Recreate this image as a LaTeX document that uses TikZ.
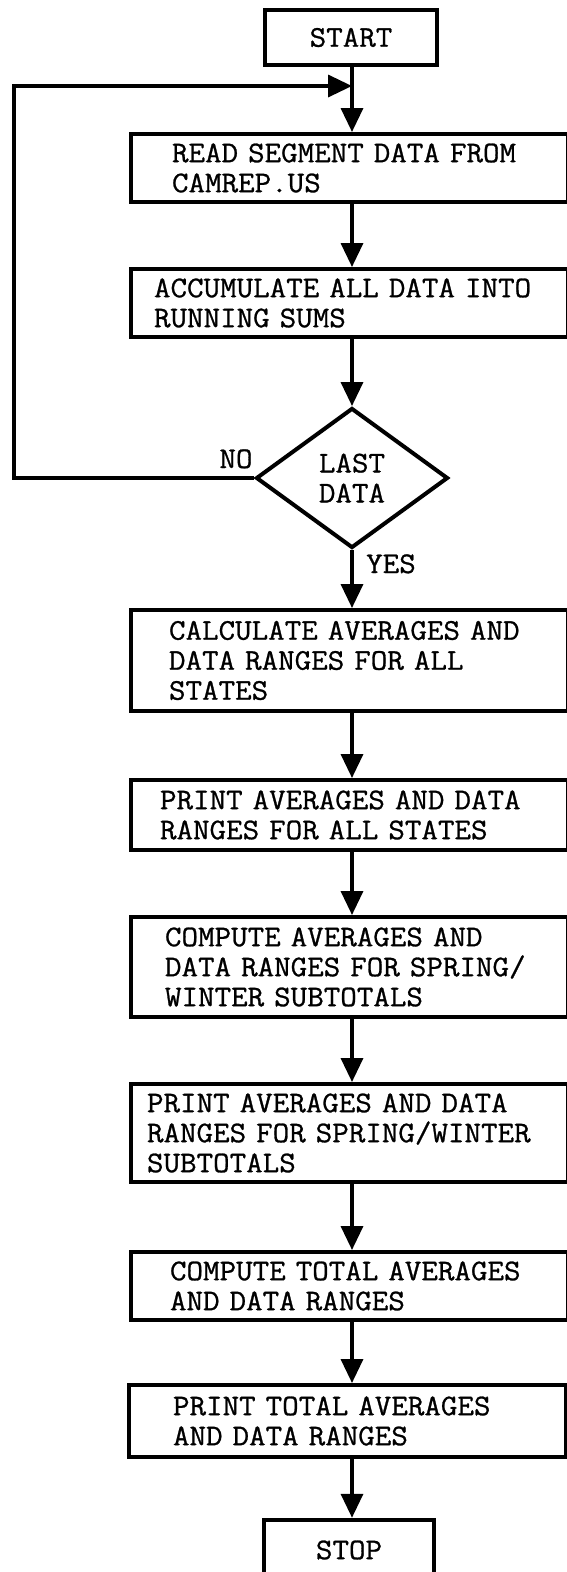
\documentclass[tikz,border=0pt]{standalone}
\usepackage{fontspec}
\usetikzlibrary{arrows.meta,shapes.geometric}
\newfontfamily\typewriter{Latin Modern Mono}[FakeStretch=1.07,FakeBold=0.9]
\newcommand{\TypeSize}{\fontsize{30}{30}\selectfont}

\begin{document}
\begin{tikzpicture}[x=1pt,y=-1pt,
  every node/.style={font=\typewriter\TypeSize},
  termbox/.style={draw,line width=4.5pt,minimum width=172pt,minimum height=55pt,inner sep=0pt},
  procbox/.style 2 args={draw,line width=4pt,anchor=north west,inner xsep=0pt,inner ysep=0pt,
    text width=437pt,minimum height=#2,align=left,execute at begin node={\leftskip=#1}},
  testbox/.style={draw,diamond,line width=4pt,minimum width=192pt,minimum height=140pt,inner sep=0pt,align=center},
  flow/.style={line width=3.5pt,-{Triangle[length=24pt,width=22pt]}},
  lbl/.style={anchor=base,inner sep=0pt}]
\useasboundingbox (0,0) rectangle (566,1572);
\coordinate (spine) at (352,0);
\coordinate (merge) at (352,86);
\coordinate (loopx) at (14,86);

\node[termbox] (start) at (351,37.5) {START};
\node[procbox={41pt}{68pt}] (read) at (129,132) {READ SEGMENT DATA FROM\\CAMREP.US};
\node[procbox={23pt}{68pt}] (accum) at (129,267) {ACCUMULATE ALL DATA INTO\\RUNNING SUMS};
\node[testbox] (test) at (352,478) {LAST\\DATA};
\node[lbl] (no) at (236,468) {NO};
\node[lbl] (yes) at (391,573) {YES};
\node[procbox={38pt}{101pt}] (calc) at (129,608) {CALCULATE AVERAGES AND\\DATA RANGES FOR ALL\\STATES};
\node[procbox={29pt}{70pt}] (printall) at (129,778) {PRINT AVERAGES AND DATA\\RANGES FOR ALL STATES};
\node[procbox={34pt}{100pt}] (compsub) at (129,915) {COMPUTE AVERAGES AND\\DATA RANGES FOR SPRING/\\WINTER SUBTOTALS};
\node[procbox={16pt}{98pt}] (printsub) at (129,1082) {PRINT AVERAGES AND DATA\\RANGES FOR SPRING/WINTER\\SUBTOTALS};
\node[procbox={39pt}{68pt}] (comptot) at (129,1250) {COMPUTE TOTAL AVERAGES\\AND DATA RANGES};
\node[procbox={44pt}{72pt}] (printtot) at (127,1383) {PRINT TOTAL AVERAGES\\AND DATA RANGES};
\node[termbox,minimum width=170pt,minimum height=60pt] (stop) at (349,1550) {STOP};

\draw[flow] (start.south -| spine) -- (read.north -| spine);
\draw[flow] (test.west) -| (loopx) -- (merge);
\draw[flow] (read.south -| spine) -- (accum.north -| spine);
\draw[flow] (accum.south -| spine) -- (test.north);
\draw[flow] (test.south) -- (calc.north -| test);
\foreach \a/\b in {calc/printall,printall/compsub,compsub/printsub,printsub/comptot,comptot/printtot,printtot/stop}
  \draw[flow] (\a.south -| spine) -- (\b.north -| spine);
\end{tikzpicture}
\end{document}
